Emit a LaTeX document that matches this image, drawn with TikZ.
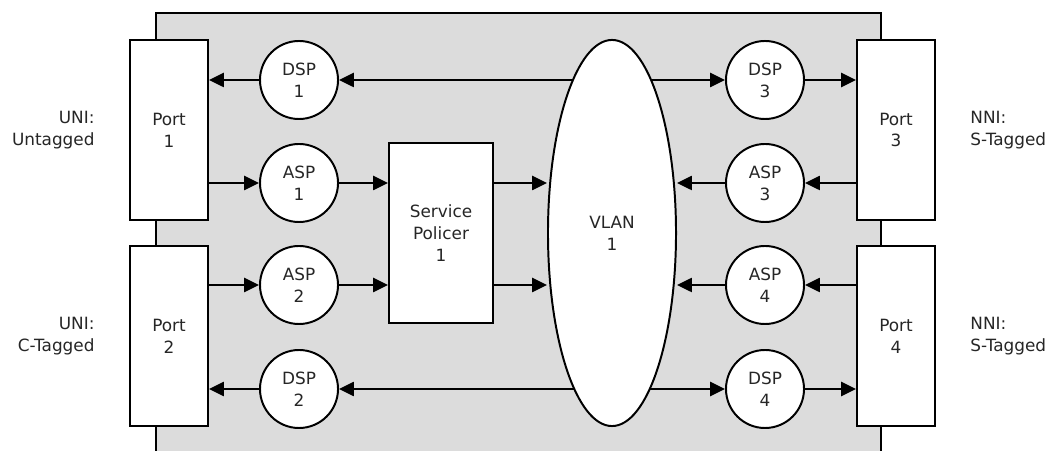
\documentclass[tikz,border=0pt]{standalone}
\usepackage{fontspec}
\setmainfont{DejaVu Sans}
\usepackage{tikz}
\usetikzlibrary{arrows.meta,positioning,shapes.geometric}

\definecolor{boxgray}{HTML}{DCDCDC}

\tikzset{
  port/.style={draw,fill=white,line width=1.4pt,minimum width=1.95cm,minimum height=4.5cm,align=center,inner sep=0pt},
  sp/.style={draw,fill=white,circle,line width=1.4pt,minimum size=1.95cm,align=center,inner sep=0pt},
  side/.style={align=left},
}

\begin{document}
\begin{tikzpicture}[x=0.025cm,y=-0.025cm,>={Triangle[length=0.37cm,width=0.35cm]},
  line width=1.4pt,font=\fontsize{12}{15.5}\selectfont,text=black!85]
  \useasboundingbox (0,0) rectangle (1058,451);
  \fill[boxgray] (156,13) rectangle (881,451);
  \draw (156,451) -- (156,13) -- (881,13) -- (881,451);

  \foreach \n/\x/\y in {1/169/130,2/169/336,3/896/130,4/896/336}
    \node[port] (port\n) at (\x,\y) {Port\\\n};
  \foreach \n/\x/\y in {1/299/80,2/299/389,3/765/80,4/765/389}
    \node[sp] (dsp\n) at (\x,\y) {DSP\\\n};
  \foreach \n/\x/\y in {1/299/183,2/299/285,3/765/183,4/765/285}
    \node[sp] (asp\n) at (\x,\y) {ASP\\\n};
  \node[port,minimum width=2.6cm] (pol) at (441,233) {Service\\Policer\\1};

  \draw[<->] (dsp1) -- (dsp3);
  \draw[<->] (dsp2) -- (dsp4);
  \node[draw,fill=white,ellipse,minimum width=3.2cm,minimum height=9.65cm,
    inner sep=0pt,align=center] (vlan) at (612,233) {VLAN\\1};

  \foreach \n in {1,2} {
    \draw[->] (port\n.east |- asp\n) -- (asp\n);
    \draw[->] (asp\n) -- (asp\n -| pol.west);
    \draw[->] (dsp\n) -- (dsp\n -| port\n.east);
    \draw[->] (pol.east |- asp\n) -- (asp\n -| vlan.west);
  }
  \foreach \n in {3,4} {
    \draw[->] (port\n.west |- asp\n) -- (asp\n);
    \draw[->] (asp\n) -- (asp\n -| vlan.east);
    \draw[->] (dsp\n) -- (dsp\n -| port\n.west);
  }

  \node[align=right,left=0.72cm of port1] (uni1) {UNI:\\Untagged};
  \node[align=right,left=0.72cm of port2] (uni2) {UNI:\\C-Tagged};
  \node[side,right=0.72cm of port3] (nni3) {NNI:\\S-Tagged};
  \node[side,right=0.72cm of port4] (nni4) {NNI:\\S-Tagged};
\end{tikzpicture}
\end{document}
